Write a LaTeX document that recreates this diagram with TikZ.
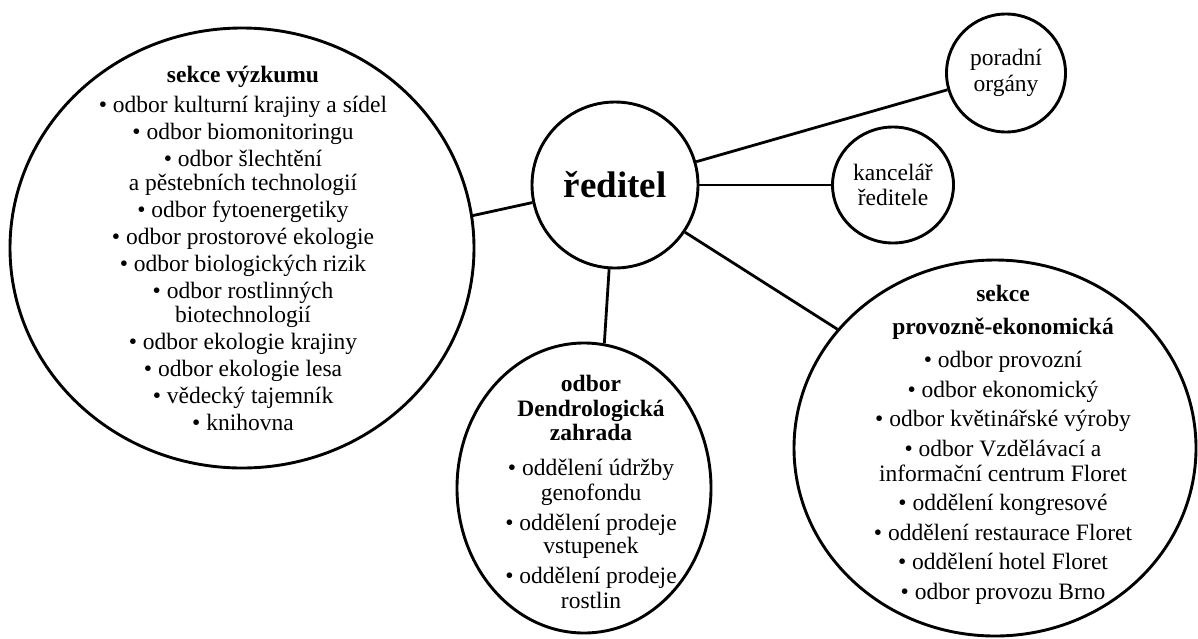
\documentclass[tikz,border=0pt]{standalone}
\usepackage{fontspec}
\setmainfont{Liberation Serif}
\usetikzlibrary{shapes.geometric}
\begin{document}
\begin{tikzpicture}[x=1pt,y=-1pt,
  bub/.style={draw, line width=2.9pt, ellipse, inner sep=0pt},
  txt/.style={align=center, inner sep=0pt},
  link/.style={line width=2.8pt}]
\useasboundingbox (0,0) rectangle (1198,638);
% bubbles
\node[bub, minimum width=464pt, minimum height=440pt] (ved) at (242,248) {};
\node[bub, minimum width=166pt, minimum height=166pt, font=\bfseries\fontsize{37}{40}\selectfont] (red) at (615,185) {ředitel};
\node[bub, minimum width=119pt, minimum height=118pt, align=center, font=\fontsize{23.5}{25.5}\selectfont] (por) at (1006,73) {poradní\\orgány};
\node[bub, minimum width=121pt, minimum height=116pt, align=center, font=\fontsize{23.5}{25.5}\selectfont] (kan) at (893,185) {kancelář\\ředitele};
\node[bub, minimum width=254pt, minimum height=290pt] (den) at (584,488) {};
\node[bub, minimum width=402pt, minimum height=376pt] (pro) at (995,448) {};
% texts
\node[txt, font=\fontsize{23.5}{27}\selectfont] (vedt) at (243,248) {%
\textbf{sekce výzkumu}\\[3pt]
• odbor kulturní krajiny a sídel\\
• odbor biomonitoringu\\
• odbor šlechtění\\[-3pt]
a pěstebních technologií\\
• odbor fytoenergetiky\\
• odbor prostorové ekologie\\
• odbor biologických rizik\\
• odbor rostlinných\\[-3pt]
biotechnologií\\
• odbor ekologie krajiny\\
• odbor ekologie lesa\\
• vědecký tajemník\\
• knihovna};
\node[txt, font=\fontsize{23.5}{27.5}\selectfont] (dent) at (591,492) {%
\textbf{odbor}\\[-3pt]
\textbf{Dendrologická}\\[-3pt]
\textbf{zahrada}\\[7.5pt]
• oddělení údržby\\[-2.5pt]
genofondu\\[2.5pt]
• oddělení prodeje\\[-4.5pt]
vstupenek\\[2.5pt]
• oddělení prodeje\\[-2.5pt]
rostlin};
\node[txt, font=\fontsize{23.5}{29.5}\selectfont] (prot) at (1003,445) {%
\textbf{sekce}\\[3.5pt]
\textbf{provozně-ekonomická}\\[3.5pt]
• odbor provozní\\
• odbor ekonomický\\
• odbor květinářské výroby\\
• odbor Vzdělávací a\\[-4.5pt]
informační centrum Floret\\
• oddělení kongresové\\
• oddělení restaurace Floret\\
• oddělení hotel Floret\\
• odbor provozu Brno};
% connectors
\draw[link] (ved.8) -- (red.192);
\draw[link] (red.266) -- (den.82);
\draw[link] (red.16) -- (por.196);
\draw[link] (red.0) -- (kan.180);
\draw[link] (red.326) -- (pro.143);
\end{tikzpicture}
\end{document}
